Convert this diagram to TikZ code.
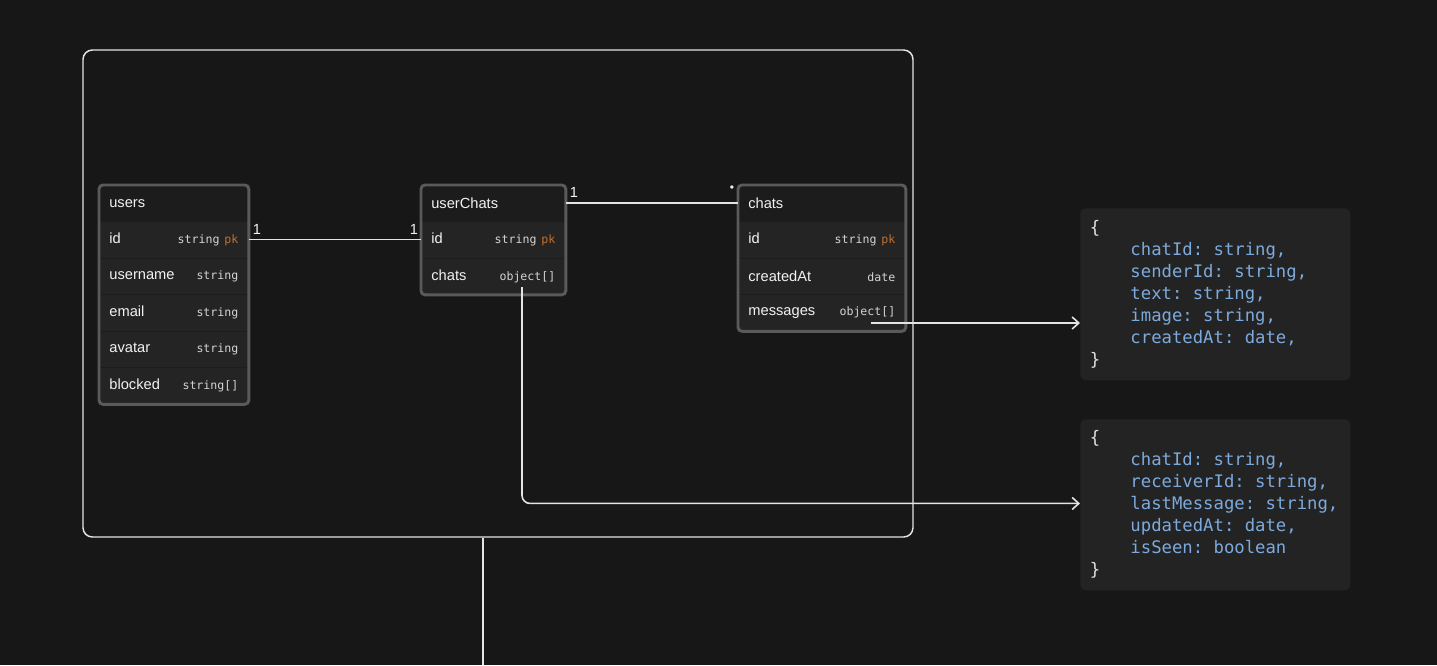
\documentclass[tikz,border=0pt]{standalone}
\usepackage{fontspec}
\setmainfont{Liberation Sans}
\setsansfont{Liberation Sans}
\setmonofont{DejaVu Sans Mono}
\usetikzlibrary{arrows.meta}

\definecolor{canvas}{HTML}{171717}
\definecolor{hdrfill}{HTML}{1C1C1C}
\definecolor{rowfill}{HTML}{242424}
\definecolor{rowsep}{HTML}{1D1D1D}
\definecolor{tbledge}{HTML}{5A5A5A}
\definecolor{fieldtext}{HTML}{F2F2F2}
\definecolor{typetext}{HTML}{D4D4D4}
\definecolor{pktext}{HTML}{C2712F}
\definecolor{wire}{HTML}{E4E4E4}
\definecolor{codefill}{HTML}{232323}
\definecolor{codekey}{HTML}{7DAADC}
\definecolor{codebrace}{HTML}{E0E0E0}

% type column and primary-key marker
\newcommand{\ftype}[1]{{\fontsize{8.7}{10}\selectfont\ttfamily\color{typetext}#1}}
\newcommand{\fpk}{{\fontsize{8.7}{10}\selectfont\ttfamily\ \color{pktext}pk}}
% four-character indent in the code blocks
\newcommand{\codeind}{\hspace*{2.35em}}

\begin{document}
\begin{tikzpicture}[x=0.75pt,y=-0.75pt,
  tblhead/.style={rectangle, anchor=north west, fill=hdrfill,
    minimum height=27pt, inner xsep=7.5pt, inner ysep=0pt, align=left,
    font=\fontsize{11}{13}\selectfont, text=fieldtext},
  tblrow/.style={tblhead, fill=rowfill, draw=rowsep, line width=0.6pt,
    minimum height=27.375pt},
  tblborder/.style={draw=tbledge, line width=2.2pt, rounded corners=3pt},
  wire/.style={draw=wire, line width=1.2pt},
  wirearrow/.style={wire, -{Straight Barb[length=5pt,width=9pt,line width=1.2pt]}},
  card/.style={draw=wire, line width=1.1pt, rounded corners=7pt},
  codebox/.style={rectangle, anchor=north west, fill=codefill, rounded corners=4.5pt,
    minimum width=202.5pt, inner sep=0pt},
  codetext/.style={anchor=west, inner sep=0pt, align=left,
    font=\fontsize{12.95}{16.5}\selectfont\ttfamily, text=codekey},
  mult/.style={font=\fontsize{11}{12}\selectfont, text=fieldtext, inner sep=0pt}
]
% canvas
\fill[canvas] (0,0) rectangle (1437,665);
\useasboundingbox (0,0) rectangle (1437,665);

% enclosing card and its downward lead
\node[card, minimum width=622.5pt, minimum height=365.25pt] (frame) at (498,293.5) {};
\coordinate (lead) at (483,665);
\draw[wire] (lead |- frame.south) -- (lead);

% ---- users ----
\node[tblhead, text width=96.75pt] (usersH) at (99,185) {users};
\node[tblrow, text width=96.75pt] (usersId) at (99,221) {id\hfill\ftype{string}\fpk};
\node[tblrow, text width=96.75pt] (usersName) at (99,257.5) {username\hfill\ftype{string}};
\node[tblrow, text width=96.75pt] (usersMail) at (99,294) {email\hfill\ftype{string}};
\node[tblrow, text width=96.75pt] (usersAvatar) at (99,330.5) {avatar\hfill\ftype{string}};
\node[tblrow, text width=96.75pt] (usersBlocked) at (99,367) {blocked\hfill\ftype{string[]}};
\draw[tblborder] (usersH.north west) rectangle (usersBlocked.south east);

% ---- userChats ----
\node[tblhead, text width=93pt] (ucH) at (421,185) {userChats};
\node[tblrow, text width=93pt] (ucId) at (421,221) {id\hfill\ftype{string}\fpk};
\node[tblrow, text width=93pt] (ucChats) at (421,257.5) {chats\hfill\ftype{object[]}};
\draw[tblborder] (ucH.north west) rectangle (ucChats.south east);

% ---- chats ----
\node[tblhead, text width=110.25pt] (chH) at (738,185) {chats};
\node[tblrow, text width=110.25pt] (chId) at (738,221) {id\hfill\ftype{string}\fpk};
\node[tblrow, text width=110.25pt] (chCreated) at (738,257.5) {createdAt\hfill\ftype{date}};
\node[tblrow, text width=110.25pt] (chMsgs) at (738,294) {messages\hfill\ftype{object[]}};
\draw[tblborder] (chH.north west) rectangle (chMsgs.south east);

% ---- embedded object shapes ----
\node[codebox, minimum height=129pt] (msgObj) at (1080,208) {};
\node[codetext] (msgText) at ([xshift=7.2pt]msgObj.west) {%
{\color{codebrace}\{}\\
\codeind chatId: string,\\
\codeind senderId: string,\\
\codeind text: string,\\
\codeind image: string,\\
\codeind createdAt: date,\\
{\color{codebrace}\}}};
\node[codebox, minimum height=128.25pt] (chatObj) at (1080,419) {};
\node[codetext] (chatText) at ([xshift=7.2pt]chatObj.west) {%
{\color{codebrace}\{}\\
\codeind chatId: string,\\
\codeind receiverId: string,\\
\codeind lastMessage: string,\\
\codeind updatedAt: date,\\
\codeind isSeen: boolean\\
{\color{codebrace}\}}};

% ---- relations ----
\draw[wire] (usersId.east) -- (ucId.west);
\draw[wire] (ucH.east) -- (chH.west);
\node[mult] (m1) at (257,229) {1};
\node[mult] (m2) at (414,229) {1};
\node[mult] (m3) at (574,192) {1};
\node[mult, font=\fontsize{9}{10}\selectfont] (m4) at (732,189) {\textbullet};

% array fields pointing to their element shapes
\coordinate (msgsOut) at (871,323);
\draw[wirearrow] (msgsOut) -- (msgsOut -| msgObj.west);
\coordinate (chatsOut) at (522,287);
\draw[wirearrow, rounded corners=6pt] (chatsOut) |- ([yshift=1pt]chatObj.west);
\end{tikzpicture}
\end{document}
